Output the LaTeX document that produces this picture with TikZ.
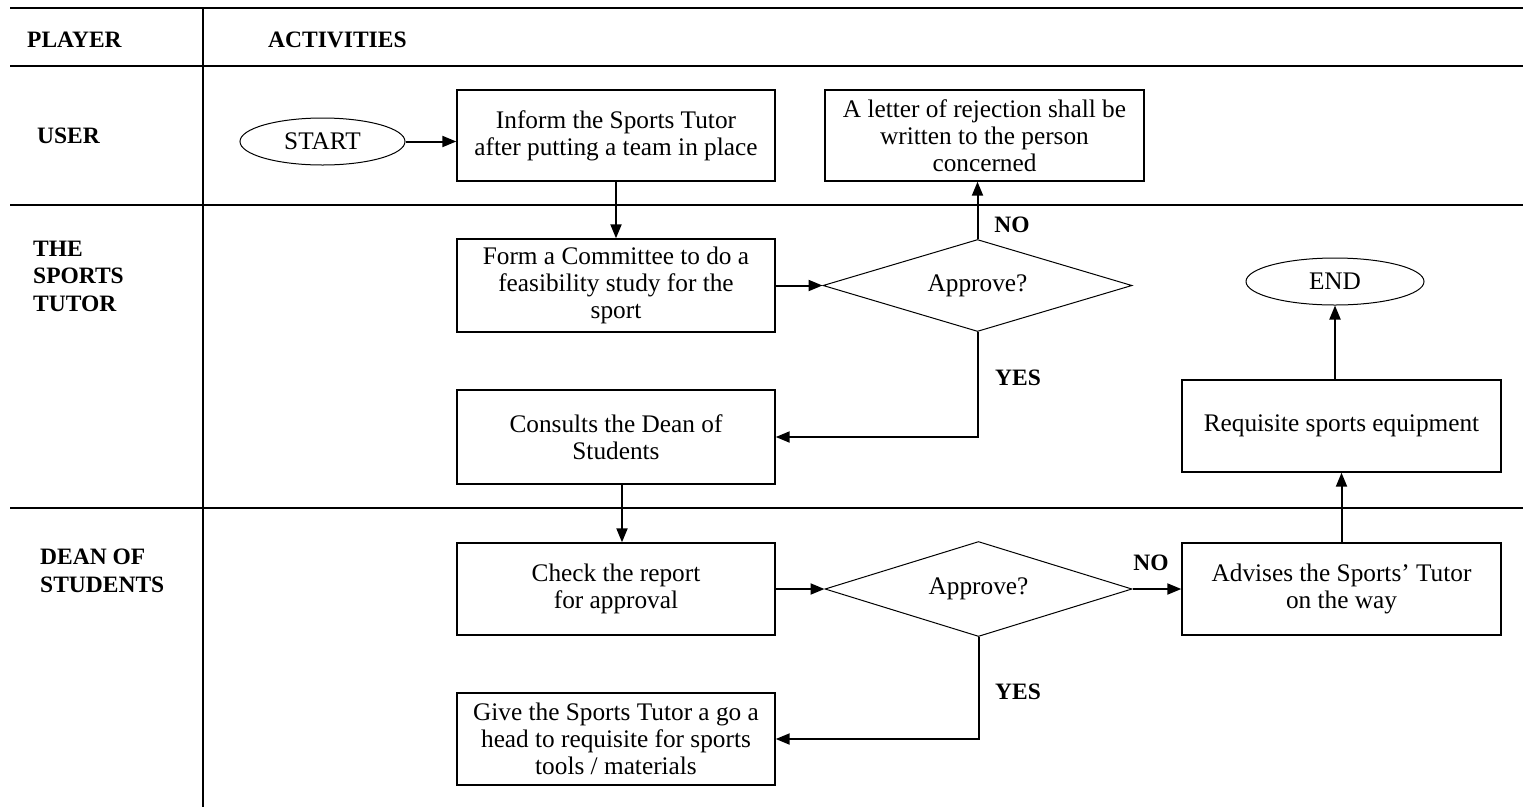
\documentclass[tikz,border=0pt]{standalone}
\usepackage{fontspec}
\setmainfont{Liberation Serif}
\usetikzlibrary{shapes.geometric,arrows.meta}
\begin{document}
\begin{tikzpicture}[x=1pt,y=-1pt,
  lane/.style={line width=2pt},
  lbl/.style={anchor=west,align=left,inner sep=0pt,font=\fontsize{23.5}{27.5}\selectfont\bfseries},
  yn/.style={inner sep=0pt,font=\fontsize{23.5}{27}\selectfont\bfseries},
  box/.style={draw,line width=1.4pt,align=center,inner sep=0pt,font=\fontsize{25.3}{27}\selectfont},
  dia/.style={draw,diamond,line width=1pt,inner sep=0pt,shape aspect=3.3,font=\fontsize{25.3}{27}\selectfont},
  oval/.style={draw,ellipse,line width=1pt,inner sep=0pt,font=\fontsize{25.3}{27}\selectfont},
  arr/.style={line width=2pt,-{Triangle[length=14pt,width=11pt]}}
]
\useasboundingbox (0,0) rectangle (1523,807);
% lanes
\draw[lane] (10,8) -- (1523,8);
\draw[lane] (10,66) -- (1523,66);
\draw[lane] (10,205) -- (1523,205);
\draw[lane] (10,508) -- (1523,508);
\draw[lane] (203,8) -- (203,807);
% lane labels
\node[lbl] (hplayer) at (27,40) {PLAYER};
\node[lbl] (hact) at (268,40) {ACTIVITIES};
\node[lbl] (luser) at (37,136) {USER};
\node[lbl] (ltutor) at (33,276) {THE\\SPORTS\\TUTOR};
\node[lbl] (ldean) at (40,571) {DEAN OF\\STUDENTS};
% nodes
\node[oval,minimum width=165pt,minimum height=47pt] (start) at (322.5,141.5) {START};
\node[box,minimum width=318pt,minimum height=91pt] (inform) at (616,135.5) {Inform the Sports Tutor\\after putting a team in place};
\node[box,minimum width=319pt,minimum height=91pt] (reject) at (984.5,135.5) {A letter of rejection shall be\\written to the person\\concerned};
\node[box,minimum width=318pt,minimum height=93pt] (form) at (616,285.5) {Form a Committee to do a\\feasibility study for the\\sport};
\node[dia,minimum width=309pt,minimum height=92pt] (d1) at (977.5,285.5) {Approve?};
\node[box,minimum width=318pt,minimum height=94pt] (consult) at (616,437) {Consults the Dean of\\Students};
\node[oval,minimum width=178pt,minimum height=47pt] (endn) at (1335,281.5) {END};
\node[box,minimum width=319pt,minimum height=92pt] (req) at (1341.5,426) {Requisite sports equipment};
\node[box,minimum width=318pt,minimum height=92pt] (check) at (616,589) {Check the report\\for approval};
\node[dia,minimum width=307pt,minimum height=95pt] (d2) at (978.5,589) {Approve?};
\node[box,minimum width=319pt,minimum height=92pt] (advise) at (1341.5,589) {Advises the Sports' Tutor\\on the way};
\node[box,minimum width=318pt,minimum height=92pt] (give) at (616,739) {Give the Sports Tutor a go a\\head to requisite for sports\\tools / materials};
% yes/no labels
\node[yn] (no1) at (1012,225) {NO};
\node[yn] (yes1) at (1018,378) {YES};
\node[yn] (no2) at (1151,563) {NO};
\node[yn] (yes2) at (1018,692) {YES};
% connectors
\draw[arr] (start.east) -- (start.east -| inform.west);
\draw[arr] (inform.south) -- (form.north);
\draw[arr] (form.east) -- (d1.west);
\draw[arr] (d1.north) -- (d1.north |- reject.south);
\draw[arr] (d1.south) |- (consult.east);
\draw[arr] ([xshift=6pt]consult.south) -- ([xshift=6pt]check.north);
\draw[arr] (check.east) -- (d2.west);
\draw[arr] (d2.east) -- (advise.west);
\draw[arr] (d2.south) |- (give.east);
\draw[arr] (advise.north) -- (req.south);
\draw[arr] (req.north -| endn.south) -- (endn.south);
\end{tikzpicture}
\end{document}
